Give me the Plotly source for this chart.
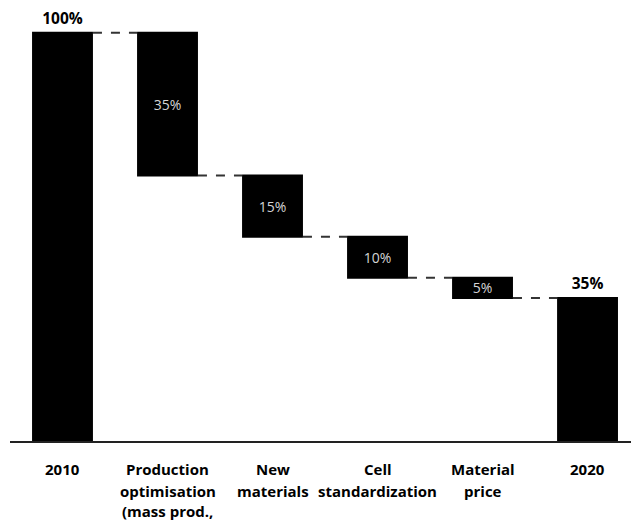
import plotly.graph_objects as go

# Cost-reduction waterfall, 2010 -> 2020
categories = ["2010", "Production optimisation", "New materials",
              "Cell standardization", "Material price", "2020"]
label_lines = [
    ["2010"],
    ["Production", "optimisation", "(mass prod.,"],
    ["New", "materials"],
    ["Cell", "standardization"],
    ["Material", "price"],
    ["2020"],
]
measures = ["absolute", "relative", "relative", "relative", "relative", "total"]
values = [100, -35, -15, -10, -5, 0]

final_value = sum(values[:-1])
texts = [f"{abs(v)}%" for v in values[:-1]] + [f"{final_value}%"]
text_pos = ["outside", "inside", "inside", "inside", "inside", "outside"]

fig = go.Figure(go.Waterfall(
    x=list(range(len(categories))),
    measure=measures,
    y=values,
    text=texts,
    textposition=text_pos,
    width=0.58,
    decreasing=dict(marker=dict(color="black", line=dict(width=0))),
    increasing=dict(marker=dict(color="black", line=dict(width=0))),
    totals=dict(marker=dict(color="black", line=dict(width=0))),
    connector=dict(mode="between", line=dict(color="#333333", width=2, dash="dash")),
    insidetextfont=dict(family="Open Sans", size=14, color="#d4d4d4"),
    outsidetextfont=dict(family="Open Sans", size=15.5, color="black", weight="bold"),
    constraintext="none",
    cliponaxis=False,
    insidetextanchor="middle",
))

# Category labels, one annotation per line below the axis
line_offsets = [-28, -49.5, -70]
annotations = []
for i, lines in enumerate(label_lines):
    for j, line in enumerate(lines):
        annotations.append(dict(
            x=i, xref="x", y=0, yref="paper",
            text=f"<b>{line}</b>", showarrow=False,
            yanchor="middle", xanchor="center",
            yshift=line_offsets[j],
            font=dict(family="Open Sans", size=15, color="black"),
        ))

fig.update_layout(
    width=631, height=522,
    margin=dict(l=10, r=0, t=0, b=81),
    paper_bgcolor="white", plot_bgcolor="white",
    showlegend=False,
    annotations=annotations,
    xaxis=dict(range=[-0.5, 5.414], showticklabels=False, ticks="",
               showgrid=False, zeroline=False,
               showline=True, linecolor="#222222", linewidth=2),
    yaxis=dict(range=[0, 108], visible=False, showgrid=False, zeroline=False),
)

fig.write_html("out.html")
